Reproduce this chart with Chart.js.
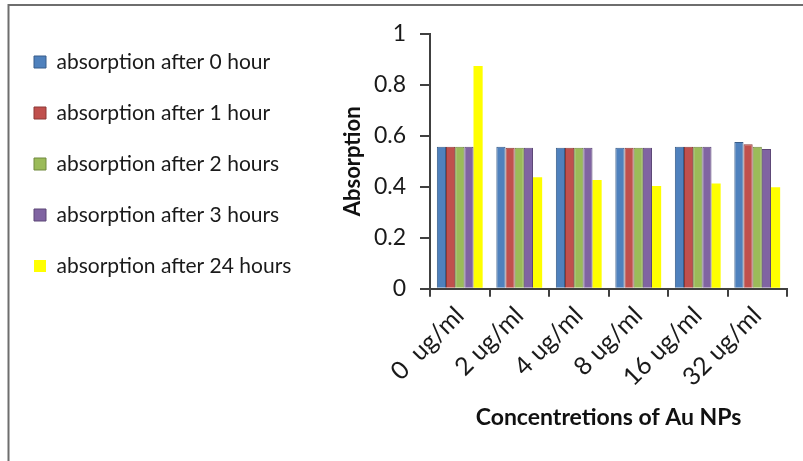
<!DOCTYPE html>
<html>
<head>
<meta charset="utf-8">
<script src="https://cdn.jsdelivr.net/npm/chart.js@4/dist/chart.umd.min.js"></script>
<style>
html,body{margin:0;padding:0;background:#fff;}
#wrap{width:803px;height:461px;position:relative;}
</style>
</head>
<body>
<div id="wrap"><canvas id="c" width="803" height="461"></canvas></div>
<script>
const categories = ['0  ug/ml', '2 ug/ml', '4 ug/ml', '8 ug/ml', '16 ug/ml', '32 ug/ml'];
const seriesNames = ['absorption after 0 hour', 'absorption after 1 hour', 'absorption after 2 hours', 'absorption after 3 hours', 'absorption after 24 hours'];
const hour0 = [0.557, 0.557, 0.553, 0.553, 0.557, 0.576];
const hour1 = [0.557, 0.553, 0.553, 0.553, 0.557, 0.567];
const hour2 = [0.557, 0.553, 0.553, 0.553, 0.557, 0.557];
const hour3 = [0.557, 0.553, 0.553, 0.553, 0.557, 0.548];
const hour24 = [0.874, 0.438, 0.427, 0.403, 0.413, 0.398];
const yTicks = [0, 0.2, 0.4, 0.6, 0.8, 1];

const fills = ['#4F81BD', '#C0504D', '#9BBB59', '#8064A2', '#FFFF00'];
const borders = ['#385D8A', '#8C3836', '#71893F', '#5C4776', '#FFFF00'];
const values = [hour0, hour1, hour2, hour3, hour24];

const FONT = 'Lato, "Open Sans", sans-serif';
const PAD_L = 4;
const LEGEND_W = 318;

const framePlugin = {
  id: 'frame',
  beforeDraw(chart) {
    const ctx = chart.ctx;
    ctx.save();
    ctx.fillStyle = '#fff';
    ctx.fillRect(0, 0, chart.width, chart.height);
    ctx.strokeStyle = '#6e6e6e';
    ctx.lineWidth = 2;
    ctx.beginPath();
    ctx.moveTo(8.5, chart.height);
    ctx.lineTo(8.5, 5);
    ctx.lineTo(chart.width, 5);
    ctx.stroke();
    ctx.restore();
  }
};

new Chart(document.getElementById('c'), {
  type: 'bar',
  data: {
    labels: categories,
    datasets: values.map((v, i) => ({
      label: seriesNames[i],
      data: v,
      backgroundColor: fills[i],
      borderColor: borders[i],
      borderWidth: i === 4 ? 0 : 1,
      categoryPercentage: 0.77,
      barPercentage: 1.0
    }))
  },
  options: {
    responsive: false,
    animation: false,
    layout: { padding: { left: PAD_L, right: 16, top: 21.5, bottom: 26 } },
    plugins: {
      tooltip: { enabled: false },
      legend: {
        position: 'left',
        align: 'start',
        maxWidth: LEGEND_W,
        labels: {
          boxWidth: 12,
          boxHeight: 12,
          padding: 30,
          color: '#1a1a1a',
          font: { family: FONT, size: 21 }
        }
      }
    },
    scales: {
      x: {
        grid: { display: true, drawOnChartArea: false, drawTicks: true, tickLength: 8, color: '#404040', lineWidth: 2, offset: true },
        border: { display: true, color: '#404040', width: 2 },
        ticks: { color: '#1a1a1a', font: { family: FONT, size: 25 }, minRotation: 45, maxRotation: 45, padding: 4 },
        title: { display: true, text: 'Concentretions of Au NPs', color: '#111', font: { family: FONT, size: 23, weight: 'bold' }, padding: { top: 4, bottom: 4 } },
        afterFit(s) { s.height = 434.8 - 288.5; }
      },
      y: {
        min: 0, max: 1,
        afterBuildTicks(s) { s.ticks = yTicks.map(v => ({ value: v })); },
        grid: { display: true, drawOnChartArea: false, drawTicks: true, tickLength: 10, color: '#404040', lineWidth: 2 },
        border: { display: true, color: '#404040', width: 2 },
        ticks: { color: '#1a1a1a', font: { family: FONT, size: 23 }, padding: 14, callback: v => String(v) },
        title: { display: true, text: 'Absorption', color: '#111', font: { family: FONT, size: 22, weight: 'bold' }, padding: { top: 38, bottom: 4 } },
        afterFit(s) {
          const lw = s.chart.legend ? s.chart.legend.width : 0;
          s.width = 430 - PAD_L - lw;
          s.paddingTop = 34;
        }
      }
    }
  },
  plugins: [framePlugin]
});
</script>
</body>
</html>
